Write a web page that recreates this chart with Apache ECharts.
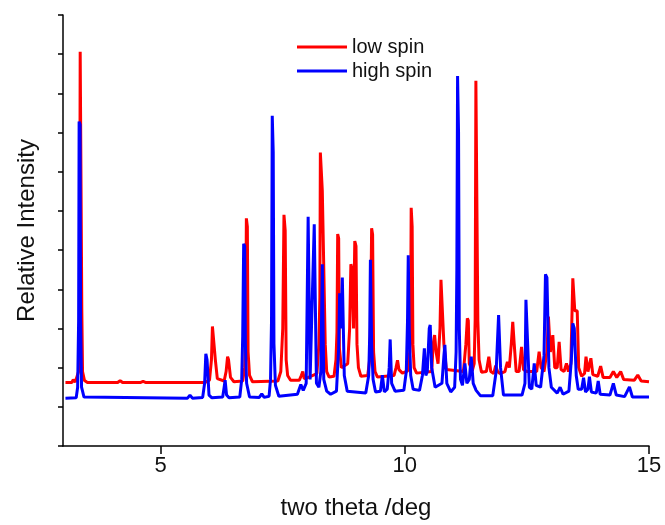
<!DOCTYPE html>
<html>
<head>
<meta charset="utf-8">
<script src="https://cdn.jsdelivr.net/npm/echarts@6/dist/echarts.min.js"></script>
<style>
html,body{margin:0;padding:0;background:#fff;}
#chart{width:665px;height:525px;}
</style>
</head>
<body>
<div id="chart"></div>
<script>
const seriesNames = ['low spin', 'high spin'];
const seriesColors = ['#ff0000', '#0000ff'];
const xTickValues = [5, 10, 15];

// low spin pattern [two theta, intensity]
const lowSpinPoints = [
  [3.05,1.62],[3.18,1.62],[3.21,1.69],[3.25,1.63],[3.29,1.67],[3.32,1.9],[3.34,3.5],[3.352,10.06],[3.372,10.06],
  [3.385,3.5],[3.40,1.9],[3.44,1.67],[3.5,1.62],[4.12,1.62],[4.17,1.67],[4.22,1.62],[4.58,1.62],[4.64,1.65],
  [4.70,1.62],[5.9,1.62],[6.00,1.68],[6.04,2.2],[6.06,3.05],[6.07,3.09],[6.10,3.0],[6.12,2.2],[6.16,1.72],
  [6.30,1.66],[6.34,1.9],[6.37,2.28],[6.39,2.2],[6.43,1.75],[6.50,1.64],[6.68,1.66],[6.72,2.0],[6.74,2.8],
  [6.755,5.81],[6.775,5.6],[6.79,2.4],[6.82,1.8],[6.88,1.64],[7.40,1.66],[7.46,1.9],[7.50,3.0],[7.525,5.90],
  [7.55,5.5],[7.57,2.2],[7.60,1.8],[7.66,1.68],[7.84,1.68],[7.88,1.8],[7.91,1.90],[7.94,1.72],[8.0,1.74],
  [8.20,1.85],[8.24,2.6],[8.26,3.8],[8.27,7.49],[8.30,7.49],[8.31,6.51],[8.35,6.51],[8.37,2.6],[8.40,1.9],[8.45,1.76],
  [8.55,1.78],[8.59,2.2],[8.61,2.9],[8.625,5.41],[8.645,5.3],[8.66,2.5],[8.70,2.0],[8.83,2.1],[8.87,3.0],
  [8.895,4.64],[8.92,4.5],[8.95,3.0],[8.975,5.23],[9.0,5.1],[9.02,2.6],[9.05,2.0],[9.10,1.78],[9.24,1.8],
  [9.28,2.2],[9.30,3.2],[9.32,5.56],[9.34,5.4],[9.36,2.4],[9.39,1.9],[9.44,1.76],[9.78,1.8],[9.82,2.0],[9.85,2.19],
  [9.88,1.95],[9.95,1.86],[10.06,1.92],[10.10,2.4],[10.12,3.5],[10.13,6.08],[10.15,5.6],[10.165,2.6],[10.19,2.0],[10.24,1.86],
  [10.55,1.9],[10.58,2.6],[10.61,2.83],[10.64,2.4],[10.68,2.1],[10.72,3.0],[10.74,4.24],[10.78,4.2],
  [10.80,2.6],[10.85,1.95],[11.20,1.9],[11.25,2.6],[11.28,3.26],[11.30,3.2],[11.32,2.1],[11.38,1.92],
  [11.42,2.1],[11.44,3.2],[11.455,9.32],[11.48,9.3],[11.495,3.2],[11.52,2.2],[11.57,1.88],[11.67,1.9],[11.72,2.28],[11.76,1.9],
  [11.82,1.85],[11.86,2.05],[11.90,1.9],[11.95,1.85],[12.05,1.9],[12.10,2.15],[12.14,2.0],[12.18,2.6],
  [12.21,3.17],[12.24,2.6],[12.28,1.9],[12.34,1.9],[12.39,2.53],[12.43,1.95],[12.50,1.9],[12.70,1.9],
  [12.75,2.41],[12.79,2.0],[12.85,1.9],[12.91,2.4],[12.94,3.30],[12.98,2.4],[13.03,2.83],[13.07,2.0],
  [13.12,2.0],[13.16,2.66],[13.20,1.95],[13.26,1.9],[13.31,2.11],[13.35,1.9],[13.40,2.1],[13.44,4.28],
  [13.48,3.45],[13.53,3.45],[13.56,2.0],[13.62,1.78],[13.68,1.85],[13.71,2.28],[13.75,1.9],[13.81,2.24],
  [13.85,1.82],[13.95,1.78],[14.01,2.04],[14.06,1.75],[14.20,1.75],[14.27,1.90],[14.34,1.75],[14.42,1.90],
  [14.48,1.7],[14.70,1.68],[14.77,1.81],[14.84,1.66],[15.0,1.64]
];

// high spin pattern [two theta, intensity]
const highSpinPoints = [
  [3.05,1.22],[3.27,1.23],[3.30,1.5],[3.32,3.2],[3.33,8.28],[3.35,8.2],[3.36,3.2],[3.38,1.5],[3.43,1.25],[5.55,1.22],
  [5.60,1.30],[5.65,1.22],[5.86,1.24],[5.90,1.6],[5.925,2.35],[5.95,2.2],[5.99,1.3],[6.05,1.23],
  [6.27,1.25],[6.30,1.5],[6.32,1.68],[6.35,1.3],[6.40,1.23],[6.62,1.25],[6.66,1.7],[6.68,2.8],[6.70,5.16],
  [6.72,5.1],[6.735,2.6],[6.76,1.6],[6.82,1.25],[7.02,1.24],[7.07,1.33],[7.12,1.24],[7.22,1.27],[7.25,1.7],[7.27,3.2],
  [7.285,8.43],[7.305,7.5],[7.32,2.6],[7.35,1.55],[7.42,1.27],[7.80,1.32],[7.87,1.57],[7.92,1.42],[7.98,1.6],
  [8.02,5.85],[8.06,1.7],[8.10,1.75],[8.145,5.66],[8.19,1.6],[8.24,1.5],[8.28,1.9],[8.31,4.64],
  [8.34,1.7],[8.40,1.4],[8.48,1.32],[8.60,1.4],[8.645,2.5],[8.665,3.90],[8.69,3.0],[8.72,4.30],
  [8.76,1.8],[8.82,1.40],[9.20,1.35],[9.26,1.8],[9.28,2.8],[9.295,4.75],[9.32,2.6],[9.35,1.7],[9.40,1.38],[9.50,1.4],
  [9.54,1.81],[9.58,1.38],[9.64,1.45],[9.68,2.0],[9.70,2.72],[9.73,1.6],[9.80,1.40],[9.98,1.42],
  [10.03,1.9],[10.055,3.2],[10.07,4.87],[10.09,3.0],[10.12,1.8],[10.17,1.45],[10.30,1.42],[10.36,1.8],[10.40,2.49],[10.43,1.8],
  [10.46,1.9],[10.50,3.0],[10.52,3.09],[10.55,2.0],[10.62,1.5],[10.76,1.6],[10.80,2.3],[10.82,2.58],
  [10.86,1.6],[10.94,1.38],[11.02,1.5],[11.05,2.4],[11.065,4.5],[11.08,9.44],[11.10,8.0],[11.115,3.0],[11.14,1.7],[11.18,1.55],
  [11.23,2.11],[11.27,1.6],[11.32,1.7],[11.36,2.28],[11.40,1.6],[11.46,1.42],[11.55,1.28],[11.80,1.28],
  [11.87,1.9],[11.92,3.34],[11.96,2.0],[12.02,1.3],[12.40,1.3],[12.46,1.6],[12.48,3.73],[12.52,3.73],
  [12.55,1.5],[12.60,1.45],[12.65,2.11],[12.69,1.55],[12.78,1.5],[12.85,2.3],[12.88,4.38],[12.91,4.3],
  [12.95,2.0],[13.00,1.5],[13.12,1.35],[13.18,1.50],[13.24,1.32],[13.36,1.4],[13.41,2.2],[13.44,3.13],
  [13.47,3.0],[13.51,1.8],[13.55,1.45],[13.62,1.45],[13.66,1.74],[13.70,1.38],[13.75,1.45],[13.78,1.77],
  [13.82,1.38],[13.92,1.35],[13.96,1.66],[14.00,1.32],[14.20,1.30],[14.27,1.60],[14.33,1.30],[14.50,1.26],
  [14.60,1.51],[14.66,1.25],[15.0,1.25]
];

const FONT = "'Liberation Sans', Arial, sans-serif";
const chart = echarts.init(document.getElementById('chart'), null, {renderer: 'canvas'});
chart.setOption({
  animation: false,
  backgroundColor: '#ffffff',
  grid: {left: 63, right: 16, top: 15, bottom: 79, containLabel: false},
  legend: {
    orient: 'vertical',
    left: 297,
    top: 37,
    padding: 0,
    itemWidth: 50,
    itemHeight: 3,
    itemGap: 4,
    icon: 'rect',
    textStyle: {fontFamily: FONT, fontSize: 20, color: '#111', lineHeight: 20},
    data: seriesNames
  },
  xAxis: {
    type: 'value',
    min: 3,
    max: 15,
    name: 'two theta /deg',
    nameLocation: 'middle',
    nameGap: 50,
    nameTextStyle: {fontFamily: FONT, fontSize: 24, color: '#111'},
    axisLine: {onZero: false, lineStyle: {color: '#000', width: 1.5}},
    axisTick: {show: true, length: 8, customValues: xTickValues, lineStyle: {color: '#000', width: 1.5}},
    axisLabel: {customValues: xTickValues, margin: 9, fontFamily: FONT, fontSize: 22, color: '#111'},
    splitLine: {show: false}
  },
  yAxis: {
    type: 'value',
    min: 0,
    max: 11,
    interval: 1,
    name: 'Relative Intensity',
    nameLocation: 'middle',
    nameGap: 24,
    nameTextStyle: {fontFamily: FONT, fontSize: 24, color: '#111'},
    axisLine: {show: true, lineStyle: {color: '#000', width: 1.5}},
    axisTick: {show: true, length: 5, lineStyle: {color: '#000', width: 1.5}},
    axisLabel: {show: false},
    splitLine: {show: false}
  },
  series: [
    {name: seriesNames[0], type: 'line', data: lowSpinPoints, showSymbol: false, symbol: 'none',
     lineStyle: {color: seriesColors[0], width: 3}, itemStyle: {color: seriesColors[0]}},
    {name: seriesNames[1], type: 'line', data: highSpinPoints, showSymbol: false, symbol: 'none',
     lineStyle: {color: seriesColors[1], width: 3}, itemStyle: {color: seriesColors[1]}}
  ]
});
</script>
</body>
</html>
